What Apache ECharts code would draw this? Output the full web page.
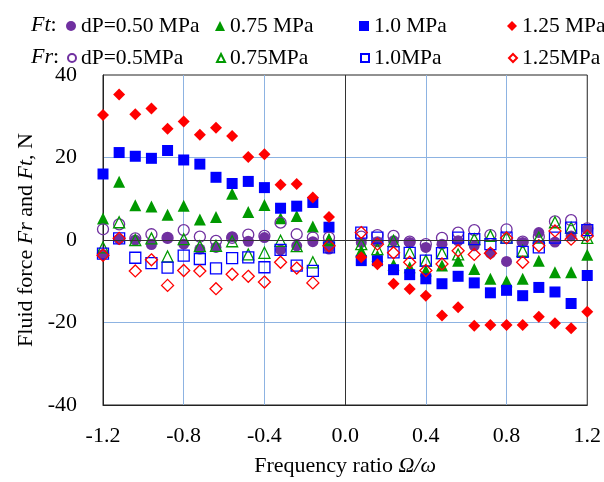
<html>
<head>
<meta charset="utf-8">
<title>Fluid force vs frequency ratio</title>
<script src="https://cdn.jsdelivr.net/npm/echarts@6.0.0/dist/echarts.min.js"></script>
<style>
  html, body { margin: 0; padding: 0; background: #fff; }
</style>
</head>
<body style="width:100%;height:100%">
<div id="main" style="width:604px;height:482px;"></div>
<script>

// frequency ratio (x) for every measured point
var xs = [-1.2, -1.12, -1.04, -0.96, -0.88, -0.8, -0.72, -0.64, -0.56, -0.48, -0.4, -0.32, -0.24, -0.16, -0.08,
          0.08, 0.16, 0.24, 0.32, 0.4, 0.48, 0.56, 0.64, 0.72, 0.8, 0.88, 0.96, 1.04, 1.12, 1.2];

// Ft (filled markers)
var ft050 = [-3.5, 0.2, 0, -1.1, 0.5, -1.0, -2.2, -1.8, 0.8, -0.3, 0.6, -2.4, -1.4, -0.4, -2.2,
             -0.6, -0.4, -0.2, -0.6, -1.8, -1.0, -0.2, -1.4, -3.2, -5.2, -0.6, 1.8, -0.5, 1.0, 2.6];
var ft075 = [5.2, 14.1, 8.4, 8.1, 6.1, 8.3, 5.0, 5.6, 11.2, 6.8, 8.5, 5.3, 5.8, 3.3, 0.2,
             -2.6, -3.8, -6.0, -6.6, -7.4, -6.2, -5.0, -7.0, -9.4, -10.0, -9.4, -5.0, -7.8, -7.8, -3.6];
var ft100 = [16.0, 21.2, 20.3, 19.8, 21.7, 19.4, 18.4, 15.2, 13.7, 14.2, 12.7, 7.7, 8.2, 9.1, 3.1,
             -5.0, -5.0, -7.2, -8.4, -9.4, -10.6, -8.8, -10.4, -12.8, -12.2, -13.5, -11.5, -12.6, -15.4, -8.6];
var ft125 = [30.3, 35.3, 30.5, 31.9, 27.0, 28.7, 25.5, 27.2, 25.2, 20.1, 20.8, 13.4, 13.6, 10.3, 5.6,
             -4.2, -5.9, -10.6, -11.9, -13.5, -18.3, -16.3, -20.8, -20.6, -20.6, -20.6, -18.6, -20.2, -21.4, -17.4];

// Fr (open markers)
var fr050 = [2.6, 3.8, 0.4, 1.4, 0.5, 2.4, 0.8, -0.2, 0.5, 1.3, 1.0, 4.2, 1.4, 0.6, 0.6,
             0.8, 1.2, 1.0, -0.4, -1.0, 0.5, 1.8, 2.4, 1.2, 2.6, -0.4, 0.8, 4.5, 4.8, 2.8];
var fr075 = [-1.8, 4.3, 0, 0.4, -4.0, 0.2, -1.5, -1.4, -0.3, -3.5, -3.1, -0.2, -1.5, -5.4, 0,
             -1.0, -2.2, -0.2, -3.1, -5.0, -3.2, -3.5, 0.2, 1.0, 0.6, -2.6, 0.6, 4.3, 3.0, 0.5];
var fr100 = [-3.3, 0.4, -4.3, -5.6, -6.7, -3.8, -4.6, -6.9, -4.4, -4.2, -6.6, -2.4, -6.2, -7.5, -1.8,
             1.8, 0.6, -3.0, -3.1, -5.0, -3.2, 0.6, 0.2, -1.0, 0.6, -2.9, -1.8, 0.6, 3.0, 2.4];
var fr125 = [-3.7, 0.4, -7.5, -4.8, -11.0, -7.4, -7.5, -11.8, -8.3, -8.8, -10.2, -5.4, -6.8, -10.4, -1.4,
             1.8, -1.0, -3.1, -5.4, -7.4, -5.8, -2.6, -3.5, -3.2, 0.5, -5.4, -1.4, 2.2, 0.2, 1.0];

var purple = '#7030A0', green = '#009900', blue = '#0000FF', red = '#FF0000';
var font = 'Liberation Serif';

function pairs(vals) {
  var out = [];
  for (var i = 0; i < xs.length; i++) {
    out.push([xs[i], vals[i]]);
  }
  return out;
}

function filled(name, vals, symbol, size, color) {
  return {
    name: name, type: 'scatter', data: pairs(vals),
    symbol: symbol, symbolSize: size,
    itemStyle: { color: color, opacity: 1 }
  };
}

function open(name, vals, symbol, size, color) {
  return {
    name: name, type: 'scatter', data: pairs(vals),
    symbol: symbol, symbolSize: size,
    itemStyle: { color: 'rgba(255,255,255,0)', borderColor: color, borderWidth: 1.3, opacity: 1 }
  };
}

var series = [
  filled('dP=0.50 MPa', ft050, 'circle', 11, purple),
  filled('0.75 MPa', ft075, 'triangle', 12, green),
  filled('1.0 MPa', ft100, 'rect', 11, blue),
  filled('1.25 MPa', ft125, 'diamond', 12, red),
  open('dP=0.5MPa', fr050, 'circle', 11, purple),
  open('0.75MPa', fr075, 'triangle', 11, green),
  open('1.0MPa', fr100, 'rect', 11, blue),
  open('1.25MPa', fr125, 'diamond', 12, red)
];

// black zero lines
series[0].markLine = {
  silent: true, symbol: 'none', label: { show: false },
  lineStyle: { color: '#333', type: 'solid', width: 1 },
  data: [{ xAxis: 0 }, { yAxis: 0 }]
};

// one legend per entry so they sit in columns like the original
var legendX = [66, 215, 359, 507];
var legends = [];
for (var i = 0; i < 8; i++) {
  var w = i < 4 ? 10 : 8;
  legends.push({
    data: [series[i].name],
    left: legendX[i % 4] + (i < 4 ? 0 : 1),
    top: i < 4 ? 15 : 47,
    padding: 0,
    itemWidth: w, itemHeight: w, itemGap: 5,
    textStyle: { fontFamily: font, fontSize: 21.5, color: '#000' }
  });
}

var option = {
  animation: false,
  backgroundColor: '#fff',
  grid: { left: 103, right: 16, top: 75, bottom: 74, show: true, borderColor: '#222', borderWidth: 1 },
  legend: legends,
  graphic: [
    { type: 'text', left: 31, top: 14, style: { text: '{i|Ft}:', fontFamily: font, fontSize: 22, fill: '#000',
      rich: { i: { fontStyle: 'italic', fontFamily: font, fontSize: 22 } } } },
    { type: 'text', left: 31, top: 46, style: { text: '{i|Fr}:', fontFamily: font, fontSize: 22, fill: '#000',
      rich: { i: { fontStyle: 'italic', fontFamily: font, fontSize: 22 } } } }
  ],
  xAxis: {
    type: 'value', min: -1.2, max: 1.2, interval: 0.4,
    name: 'Frequency ratio {i|Ω/ω}', nameLocation: 'middle', nameGap: 50,
    nameTextStyle: { fontFamily: font, fontSize: 22, color: '#000',
      rich: { i: { fontStyle: 'italic', fontFamily: font, fontSize: 22 } } },
    axisLine: { show: true, onZero: false, lineStyle: { color: '#222' } },
    axisTick: { show: false },
    axisLabel: { fontFamily: font, fontSize: 22, color: '#000', margin: 20,
      formatter: function (v) { return v.toFixed(1); } },
    splitLine: { show: true, showMinLine: false, showMaxLine: false, lineStyle: { color: '#8DB3E2', width: 1 } }
  },
  yAxis: {
    type: 'value', min: -40, max: 40, interval: 20,
    name: 'Fluid force {i|Fr} and {i|Ft}, N', nameLocation: 'middle', nameGap: 64,
    nameTextStyle: { fontFamily: font, fontSize: 22, color: '#000',
      rich: { i: { fontStyle: 'italic', fontFamily: font, fontSize: 22 } } },
    axisLine: { show: true, onZero: false, lineStyle: { color: '#222' } },
    axisTick: { show: false },
    axisLabel: { fontFamily: font, fontSize: 22, color: '#000', margin: 26 },
    splitLine: { show: true, showMinLine: false, showMaxLine: false, lineStyle: { color: '#8DB3E2', width: 1 } }
  },
  series: series
};

var myChart = echarts.init(document.getElementById('main'));
myChart.setOption(option);
</script>
</body>
</html>
